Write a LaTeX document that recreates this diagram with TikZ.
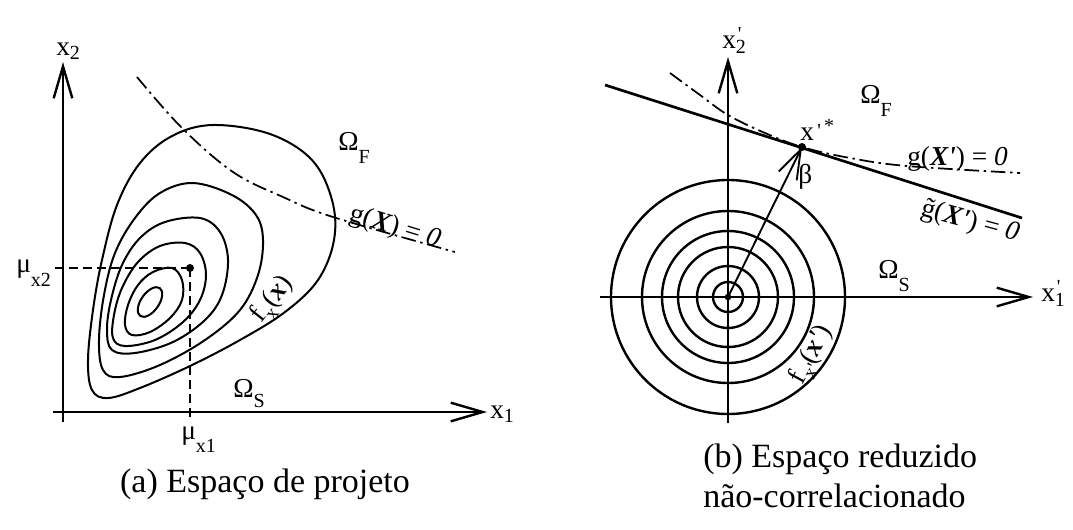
\documentclass[tikz,border=0pt]{standalone}
\usepackage{fontspec}
\setmainfont{Liberation Serif}
\usetikzlibrary{arrows.meta}
\newcommand{\lsub}[2][8pt]{\raisebox{-#1}{\fontsize{15}{15}\selectfont #2}}
\newcommand{\lsup}[2][6pt]{\raisebox{#1}{\fontsize{15}{15}\selectfont #2}}
\newcommand{\pr}{\textquotesingle}
\begin{document}
\begin{tikzpicture}[x=0.75pt,y=-0.75pt,
  axis/.style={line width=1.8pt, -{Straight Barb[length=24pt, width=14pt]}},
  contour/.style={line width=1.5pt},
  ring/.style={line width=1.8pt},
  lim/.style={line width=1.3pt, dash pattern=on 11pt off 3.5pt on 1.8pt off 3.5pt},
  tang/.style={line width=2pt},
  mudash/.style={line width=1.6pt, dash pattern=on 7pt off 3.5pt},
  vec/.style={line width=1.4pt, -{Straight Barb[length=22pt, width=15pt]}},
  dot/.style={circle, fill=black, inner sep=0pt, minimum size=6pt},
  lbl/.style={font=\fontsize{20.5}{24}\selectfont, inner sep=0pt},
  captxt/.style={font=\fontsize{25.5}{30}\selectfont, inner sep=0pt}]
\useasboundingbox (0,0) rectangle (1073,529);
\fill[white] (0,0) rectangle (1073,529);

% ---------- (a) ----------
\coordinate (xa0) at (53,412);
\coordinate (xa1) at (487,412);
\coordinate (ya0) at (63,422);
\coordinate (ya1) at (63,62);
\draw[axis] (xa0) -- (xa1);
\draw[axis] (ya0) -- (ya1);

% contours
\draw[contour] plot[smooth cycle, tension=0.6] coordinates {(213,125) (270,134) (312,160) (332,200) (334,240) (318,280) (285,312) (240,340) (190,366) (140,388) (108,398) (92,390) (88,360) (93,310) (102,260) (117,205) (140,163) (172,136)};
\draw[contour] plot[smooth cycle, tension=0.6] coordinates {(193,183) (232,195) (256,215) (263,240) (258,275) (240,310) (205,340) (160,365) (120,377) (103,370) (99,340) (104,295) (115,253) (135,218) (160,193)};
\draw[contour] plot[smooth cycle, tension=0.6] coordinates {(200,218) (220,232) (228,260) (222,295) (205,320) (173,342) (135,353) (112,350) (107,330) (111,300) (122,265) (140,238) (165,222)};
\draw[contour] plot[smooth cycle, tension=0.6] coordinates {(185,243) (200,253) (206,275) (200,300) (183,322) (155,340) (125,346) (113,338) (114,315) (122,288) (138,262) (160,246)};
\draw[contour] plot[smooth cycle, tension=0.6] coordinates {(172,268) (182,280) (182,300) (170,318) (150,332) (132,335) (125,325) (128,305) (138,285) (153,272)};
\draw[contour, rotate around={55:(150,302)}] (150,302) ellipse [x radius=12.75pt, y radius=6.75pt];

% limit state
\draw[lim] plot[smooth, tension=0.6] coordinates {(137,77) (182,128) (233,172) (283,197) (333,217) (455,252)};

% mean point
\node[dot] (mu) at (190,268) {};
\coordinate (m2) at (55,268);
\coordinate (m1) at (190,421);
\draw[mudash] (m2) -- (mu.center);
\draw[mudash] (mu.center) -- (m1);

% labels
\node[lbl, anchor=base west] (lx2) at (56,55) {x\lsub[3pt]{2}};
\node[lbl, anchor=base west] (lx1) at (490,418) {x\lsub[3pt]{1}};
\node[lbl, anchor=base west] (lOF) at (338,150) {Ω\lsub[10pt]{F}};
\node[lbl, anchor=base west] (lOS) at (233,397) {Ω\lsub[8pt]{S}};
\node[lbl, anchor=base west] (lmu2) at (16,272) {μ\lsub[11pt]{x2}};
\node[lbl, anchor=base west] (lmu1) at (181,439) {μ\lsub[10pt]{x1}};
\node[lbl, rotate=52] (lf) at (273,300) {f\lsub[6pt]{x}(\textbf{\textit{x}})};
\node[lbl, rotate=-17] (lg) at (395,228) {g(\textbf{\textit{X}}) = \textit{0}};
\node[captxt, anchor=base] (capa) at (265,492) {(a) Espaço de projeto};

% ---------- (b) ----------
\coordinate (xb0) at (600,297);
\coordinate (xb1) at (1033,297);
\coordinate (yb0) at (728,423);
\coordinate (yb1) at (728,57);
\foreach \r in {117,86,66,50,31,15}
  \draw[ring] (728,297) circle[radius={\r*0.75pt}];
\draw[axis] (xb0) -- (xb1);
\draw[axis] (yb0) -- (yb1);

\coordinate (t0) at (605,85);
\coordinate (t1) at (1022,218);
\draw[tang] (t0) -- (t1);
\draw[lim] plot[smooth, tension=0.6] coordinates {(670,73) (700,95) (728,115) (765,133) (802,147) (850,158) (907,166) (1020,173)};

\node[dot, minimum size=5pt] (O) at (728,297) {};
\node[dot] (xs) at (802,147) {};
\draw[vec] (O.center) -- (xs.center);

\node[lbl, anchor=base west] (lx2b) at (722,48) {x\lsub[4pt]{2}\hspace{-6pt}\lsup[5.5pt]{\pr}};
\node[lbl, anchor=base west] (lx1b) at (1041,301) {x\lsub[4pt]{1}\hspace{-6pt}\lsup[5.5pt]{\pr}};
\node[lbl, anchor=base west] (lOFb) at (860,103) {Ω\lsub[10pt]{F}};
\node[lbl, anchor=base west] (lOSb) at (878,278) {Ω\lsub[10pt]{S}};
\node[lbl, anchor=base west] (lxs) at (800,140) {x\lsup[2pt]{\,\pr\,\raisebox{4pt}{*}}};
\node[lbl, anchor=base west] (lbeta) at (798,183) {β};
\node[lbl, anchor=base west] (lgb) at (907,165) {g(\textbf{\textit{X\pr}}) = \textit{0}};
\node[lbl, rotate=-15] (lgt) at (970,222) {\~{g}(\textbf{\textit{X\pr}}) = \textit{0}};
\node[lbl, rotate=62] (lfb) at (812,355) {f\lsub[6pt]{x\pr}(\textbf{\textit{x\pr}})};
\node[captxt, anchor=base west] (capb) at (703,467) {(b) Espaço reduzido};
\node[captxt, anchor=base west] (capb2) at (703,507) {não-correlacionado};
\end{tikzpicture}
\end{document}
